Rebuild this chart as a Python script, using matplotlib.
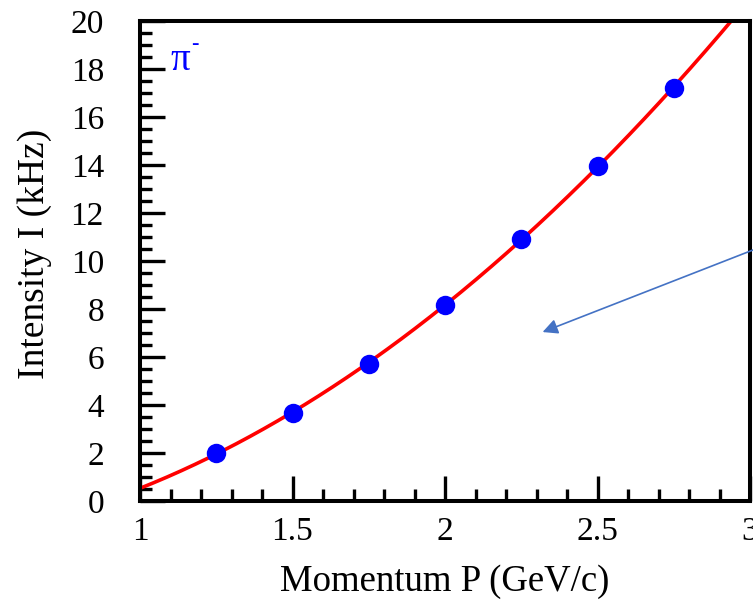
import numpy as np
import matplotlib
matplotlib.use("Agg")
import matplotlib.pyplot as plt
from matplotlib.ticker import MultipleLocator, FuncFormatter

# Measured beam intensity versus momentum for negative pions
momentum = [1.25, 1.5, 1.75, 2.0, 2.25, 2.5, 2.75]
intensity = [2.0, 3.67, 5.71, 8.17, 10.92, 13.96, 17.21]

x_ticks = [1, 1.5, 2, 2.5, 3]
y_ticks = [0, 2, 4, 6, 8, 10, 12, 14, 16, 18, 20]

plt.rcParams["font.family"] = ["Liberation Serif", "DejaVu Serif"]

fig = plt.figure(figsize=(7.53, 6.04), dpi=100)
ax = fig.add_axes([140 / 753, 1 - 501 / 604, 610 / 753, 480 / 604])

# Smooth fit through the measurements
coef = np.polyfit(momentum, intensity, 2)
xf = np.linspace(1.0, 3.0, 400)
ax.plot(xf, np.polyval(coef, xf), color="#ff0000", lw=2.6, zorder=2)

ax.plot(momentum, intensity, "o", color="#0000ff", ms=14, mec="none", zorder=3)

ax.set_xlim(1, 3)
ax.set_ylim(0, 20)
ax.set_xticks(x_ticks)
ax.set_yticks(y_ticks)
ax.xaxis.set_minor_locator(MultipleLocator(0.1))
ax.yaxis.set_minor_locator(MultipleLocator(0.5))
ax.xaxis.set_major_formatter(FuncFormatter(lambda v, p: f"{v:g}"))

for s in ax.spines.values():
    s.set_linewidth(2.9)
ax.tick_params(which="major", direction="in", length=18, width=2.4, labelsize=24)
ax.tick_params(which="minor", direction="in", length=8.5, width=2.4)
ax.tick_params(axis="x", which="major", pad=11)
ax.tick_params(axis="y", which="major", pad=26)

ax.set_xlabel("Momentum P (GeV/c)", fontsize=26.5)
ax.xaxis.set_label_coords(0.5, -0.133)
ax.set_ylabel("Intensity I (kHz)", fontsize=27)
ax.yaxis.set_label_coords(-0.145, 0.515)

ax.text(1.1, 17.95, "π", color="#0000ff", fontsize=28, ha="left", va="baseline")
ax.text(1.168, 18.85, "-", color="#0000ff", fontsize=16, ha="left", va="baseline")

ax.annotate("", xy=(2.32, 7.04), xytext=(3.01, 10.46),
            arrowprops=dict(arrowstyle="-|>,head_length=0.9,head_width=0.45",
                            color="#4472c4", lw=1.2, shrinkA=0, shrinkB=0),
            annotation_clip=False)

fig.savefig("out.png", dpi=100)
